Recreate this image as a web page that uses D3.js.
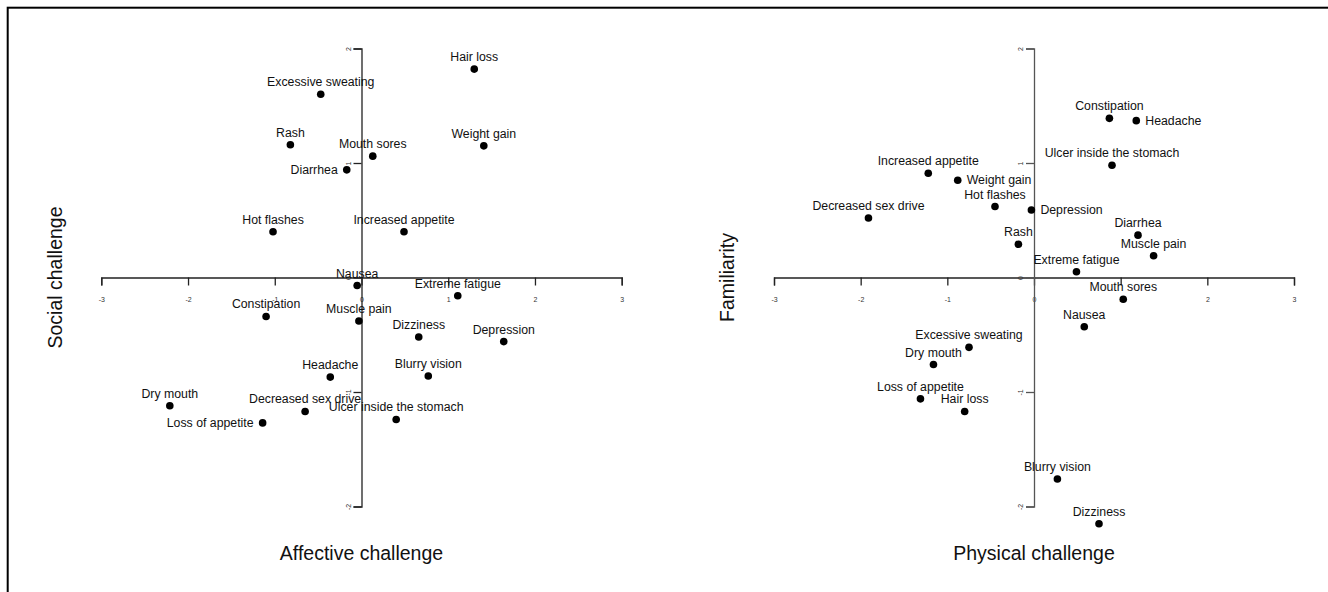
<!DOCTYPE html>
<html>
<head>
<meta charset="utf-8">
<script src="https://cdn.jsdelivr.net/npm/d3@7"></script>
<style>
  html, body { margin: 0; padding: 0; background: #fff; }
  svg { display: block; font-family: "Liberation Sans", Arial, sans-serif; }
</style>
</head>
<body>
<svg id="chart" width="1328" height="592"></svg>
<script>
// ---- Data ----
const xTicks = [-3, -2, -1, 0, 1, 2, 3];
const yTicks = [-2, -1, 0, 1, 2];

// Panel A: Affective vs Social challenge
const symptomsA = ["Excessive sweating", "Rash", "Mouth sores", "Diarrhea", "Hot flashes", "Nausea",
  "Hair loss", "Weight gain", "Increased appetite", "Constipation", "Muscle pain", "Headache",
  "Dry mouth", "Decreased sex drive", "Loss of appetite", "Extreme fatigue", "Dizziness",
  "Depression", "Blurry vision", "Ulcer inside the stomach"];
const affective = [-0.47, -0.82, 0.13, -0.17, -1.02, -0.05, 1.30, 1.41, 0.49, -1.10, -0.03, -0.36,
  -2.21, -0.65, -1.14, 1.11, 0.66, 1.64, 0.77, 0.40];
const social = [1.60, 1.16, 1.06, 0.94, 0.40, -0.07, 1.82, 1.15, 0.40, -0.34, -0.38, -0.87,
  -1.12, -1.17, -1.27, -0.16, -0.52, -0.56, -0.86, -1.24];
const labelSideA = ["top", "top", "top", "left", "top", "top", "top", "top", "top", "top", "top", "top",
  "top", "top", "left", "top", "top", "top", "top", "top"];

// Panel B: Physical challenge vs Familiarity
const symptomsB = ["Constipation", "Headache", "Ulcer inside the stomach", "Increased appetite",
  "Weight gain", "Hot flashes", "Depression", "Decreased sex drive", "Diarrhea", "Rash",
  "Muscle pain", "Extreme fatigue", "Mouth sores", "Nausea", "Excessive sweating", "Dry mouth",
  "Loss of appetite", "Hair loss", "Blurry vision", "Dizziness"];
const physical = [0.87, 1.18, 0.90, -1.22, -0.88, -0.45, -0.03, -1.91, 1.20, -0.18, 1.38, 0.49,
  1.03, 0.58, -0.75, -1.16, -1.31, -0.80, 0.27, 0.75];
const familiarity = [1.39, 1.37, 0.98, 0.91, 0.85, 0.62, 0.59, 0.52, 0.37, 0.29, 0.19, 0.05,
  -0.19, -0.43, -0.61, -0.76, -1.06, -1.17, -1.76, -2.15];
const labelSideB = ["top", "right", "top", "top", "right", "top", "right", "top", "top", "top",
  "top", "top", "top", "top", "top", "top", "top", "top", "top", "top"];

// ---- Drawing ----
const svg = d3.select("#chart");

// frame (cropped on right/bottom)
svg.append("rect")
  .attr("x", 7.7).attr("y", 7.7)
  .attr("width", 1400).attr("height", 700)
  .attr("fill", "none").attr("stroke", "#000").attr("stroke-width", 2);

function panel(cfg) {
  const x = d3.scaleLinear().domain([-3, 3]).range(cfg.xRange);
  const y = d3.scaleLinear().domain([-2, 2]).range([506.5, 48.5]);
  const g = svg.append("g");
  const x0 = x(0), y0 = y(0);

  // x axis (through y = 0), ticks pointing down
  const xa = g.append("g").attr("transform", `translate(0,${y0})`)
    .call(d3.axisBottom(x).tickValues(xTicks).tickSize(8).tickPadding(12)
      .tickFormat(d => String(d)));
  xa.select(".domain").attr("stroke", "#222").attr("stroke-width", 1.3);
  xa.selectAll(".tick line").attr("stroke", "#222").attr("stroke-width", 1.3);
  xa.selectAll(".tick text").attr("font-size", 7).attr("fill", "#333")
    .attr("font-family", "'Liberation Sans', Arial, sans-serif");

  // y axis (through x = 0), ticks pointing left, labels parallel to axis
  const ya = g.append("g").attr("transform", `translate(${x0},0)`)
    .call(d3.axisLeft(y).tickValues(yTicks).tickSize(8).tickPadding(6)
      .tickFormat(d => String(d)));
  ya.select(".domain").attr("stroke", cfg.yAxisColor).attr("stroke-width", 1.3);
  ya.selectAll(".tick line").attr("stroke", cfg.yAxisColor).attr("stroke-width", 1.3);
  ya.selectAll(".tick text")
    .attr("font-size", 7).attr("fill", "#333")
    .attr("font-family", "'Liberation Sans', Arial, sans-serif")
    .attr("x", null).attr("dy", null)
    .attr("text-anchor", "middle")
    .attr("transform", "translate(-11,0) rotate(-90)");

  // points
  const data = cfg.names.map((n, i) => ({ n, vx: cfg.xs[i], vy: cfg.ys[i], side: cfg.sides[i] }));
  g.selectAll("circle.pt").data(data).join("circle")
    .attr("class", "pt")
    .attr("cx", d => x(d.vx)).attr("cy", d => y(d.vy))
    .attr("r", 3.8).attr("fill", "#000");

  g.selectAll("text.lbl").data(data).join("text")
    .attr("class", "lbl")
    .attr("font-size", 12.3).attr("fill", "#111")
    .attr("x", d => d.side === "left" ? x(d.vx) - 9 : d.side === "right" ? x(d.vx) + 9 : x(d.vx))
    .attr("y", d => d.side === "top" ? y(d.vy) - 8 : y(d.vy) + 4.3)
    .attr("text-anchor", d => d.side === "left" ? "end" : d.side === "right" ? "start" : "middle")
    .text(d => d.n);

  // axis titles
  g.append("text")
    .attr("x", (cfg.xRange[0] + cfg.xRange[1]) / 2).attr("y", 560)
    .attr("text-anchor", "middle").attr("font-size", 19.5).attr("fill", "#111")
    .text(cfg.xTitle);
  g.append("text")
    .attr("transform", `translate(${cfg.yTitleX},${y0}) rotate(-90)`)
    .attr("text-anchor", "middle").attr("font-size", 19.5).attr("fill", "#111")
    .text(cfg.yTitle);
}

panel({
  xRange: [101.3, 621.7], names: symptomsA, xs: affective, ys: social, sides: labelSideA,
  xTitle: "Affective challenge", yTitle: "Social challenge", yTitleX: 62, yAxisColor: "#222"
});
panel({
  xRange: [774, 1294], names: symptomsB, xs: physical, ys: familiarity, sides: labelSideB,
  xTitle: "Physical challenge", yTitle: "Familiarity", yTitleX: 734, yAxisColor: "#555"
});
</script>
</body>
</html>
